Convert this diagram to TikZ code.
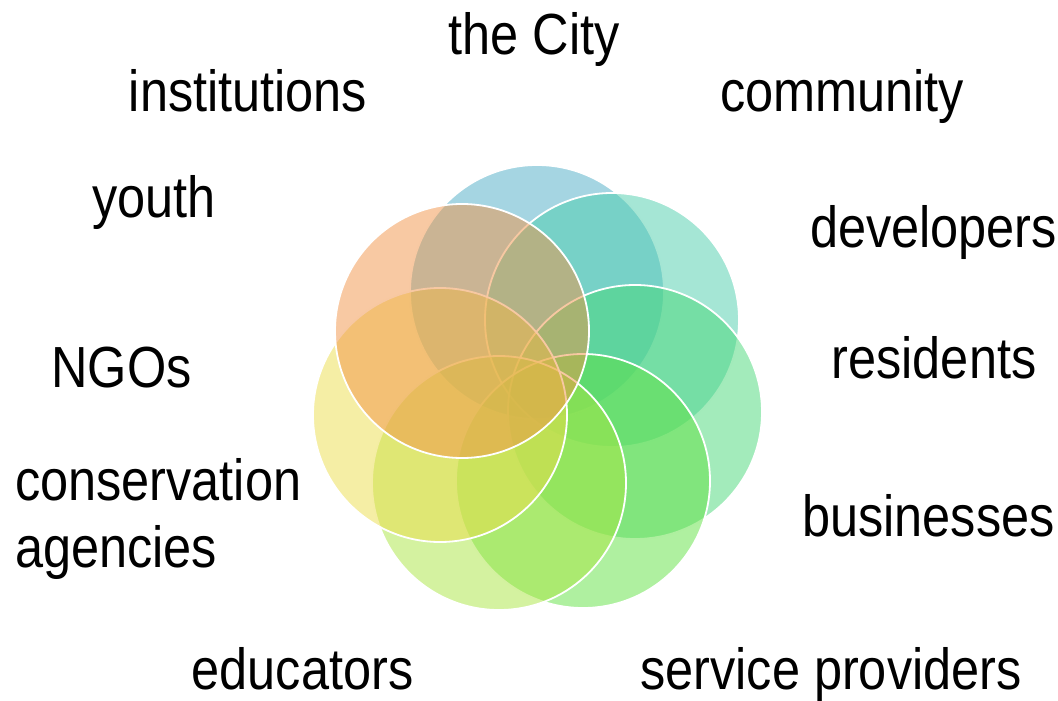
\documentclass[tikz,border=0pt]{standalone}
\usepackage{fontspec}
\setmainfont{Liberation Sans}[FakeStretch=0.87]
\definecolor{cA}{RGB}{75,172,198}
\definecolor{cB}{RGB}{75,205,171}
\definecolor{cC}{RGB}{71,215,119}
\definecolor{cD}{RGB}{95,225,65}
\definecolor{cE}{RGB}{169,229,65}
\definecolor{cF}{RGB}{235,221,75}
\definecolor{cG}{RGB}{241,147,71}
\tikzset{
  ring/.style={circle, draw=white, line width=1.8pt, fill opacity=0.5, minimum size=254pt, inner sep=0pt},
  lbl/.style={inner sep=0pt, text=black, font=\fontsize{58}{60}\selectfont}
}
\begin{document}
\begin{tikzpicture}[x=1pt,y=-1pt]
\useasboundingbox (0,0) rectangle (1058,701);
\node[ring, fill=cA] (cA) at (537,292) {};
\node[ring, fill=cB] (cB) at (612,320) {};
\node[ring, fill=cC] (cC) at (635,412) {};
\node[ring, fill=cD] (cD) at (583,481) {};
\node[ring, fill=cE] (cE) at (499,483) {};
\node[ring, fill=cF] (cF) at (440,415) {};
\node[ring, fill=cG] (cG) at (462,331) {};
\node[lbl, anchor=base] (city) at (534,55) {the City};
\node[lbl, anchor=base] (inst) at (248,111.5) {institutions};
\node[lbl, anchor=base] (comm) at (842,111) {community};
\node[lbl, anchor=base] (youth) at (154,217) {youth};
\node[lbl, anchor=base] (dev) at (933.5,247) {developers};
\node[lbl, anchor=base] (ngo) at (121.5,387) {NGOs};
\node[lbl, anchor=base] (res) at (934,378) {residents};
\node[lbl, anchor=base west] (cons) at (15,500) {conservation};
\node[lbl, anchor=base west] (agen) at (15,567) {agencies};
\node[lbl, anchor=base] (bus) at (928.5,536) {businesses};
\node[lbl, anchor=base] (edu) at (302.5,689) {educators};
\node[lbl, anchor=base] (serv) at (831,689) {service providers};
\end{tikzpicture}
\end{document}
